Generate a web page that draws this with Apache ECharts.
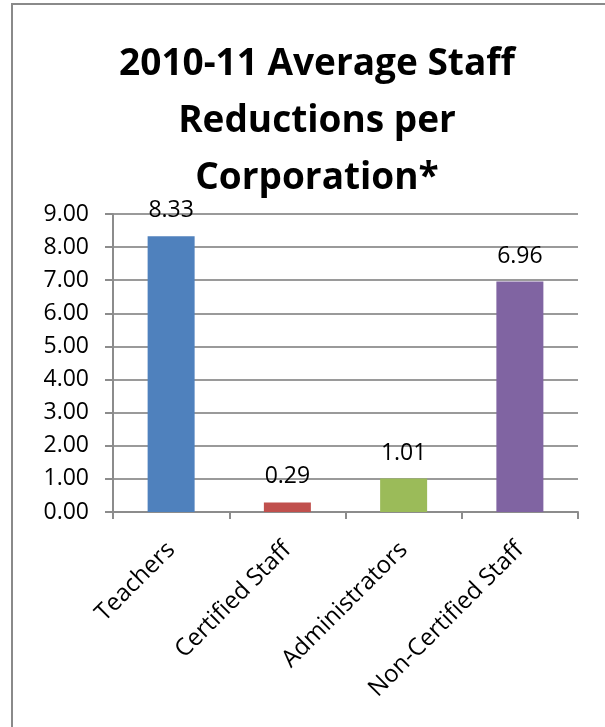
<!DOCTYPE html>
<html>
<head>
<meta charset="utf-8">
<style>
  html, body { margin: 0; padding: 0; background: #fff; }
  #chart { width: 605px; height: 727px; }
</style>
<script src="https://cdn.jsdelivr.net/npm/echarts@6/dist/echarts.min.js"></script>
</head>
<body>
<div id="chart"></div>
<script>
// Staff categories and average reductions per corporation
const categories = ['Teachers', 'Certified Staff', 'Administrators', 'Non-Certified Staff'];
const reductions = [8.33, 0.29, 1.01, 6.96];
const barColors = ['#4F81BD', '#C0504D', '#9BBB59', '#8064A2'];
const yTicks = { min: 0, max: 9, interval: 1 };

const FONT = '"Open Sans", "Noto Sans", sans-serif';

const chart = echarts.init(document.getElementById('chart'), null, { renderer: 'canvas' });

chart.setOption({
  animation: false,
  backgroundColor: '#ffffff',
  graphic: [{
    type: 'rect',
    shape: { x: 12, y: 4, width: 700, height: 800 },
    style: { fill: 'none', stroke: '#8a8a8a', lineWidth: 2 },
    silent: true,
    z: 0
  }],
  title: {
    text: '2010-11 Average Staff\nReductions per\nCorporation*',
    left: 312,
    textAlign: 'center',
    top: 31,
    textStyle: {
      fontFamily: FONT,
      fontWeight: 'bold',
      fontSize: 37,
      lineHeight: 57,
      color: '#000'
    }
  },
  grid: { left: 113, right: 27, top: 214, bottom: 215, containLabel: false },
  xAxis: {
    type: 'category',
    data: categories,
    axisLine: { lineStyle: { color: '#8c8c8c', width: 2 } },
    axisTick: { show: true, length: 7, alignWithLabel: false, lineStyle: { color: '#8c8c8c', width: 2 } },
    axisLabel: {
      rotate: 45,
      interval: 0,
      margin: 34,
      fontFamily: FONT,
      fontSize: 24,
      color: '#000'
    }
  },
  yAxis: {
    type: 'value',
    min: yTicks.min,
    max: yTicks.max,
    interval: yTicks.interval,
    axisLine: { show: true, lineStyle: { color: '#8c8c8c', width: 2 } },
    axisTick: { show: true, length: 8, lineStyle: { color: '#8c8c8c', width: 2 } },
    splitLine: { show: true, lineStyle: { color: '#9a9a9a', width: 2 } },
    axisLabel: {
      margin: 24,
      fontFamily: FONT,
      fontSize: 23,
      color: '#000',
      formatter: v => v.toFixed(2)
    }
  },
  series: [{
    type: 'bar',
    data: reductions.map((v, i) => ({ value: v, itemStyle: { color: barColors[i] } })),
    barWidth: 47,
    label: {
      show: true,
      position: 'top',
      distance: 14,
      fontFamily: FONT,
      fontSize: 23,
      color: '#000',
      formatter: p => p.value.toFixed(2)
    }
  }]
});
</script>
</body>
</html>
